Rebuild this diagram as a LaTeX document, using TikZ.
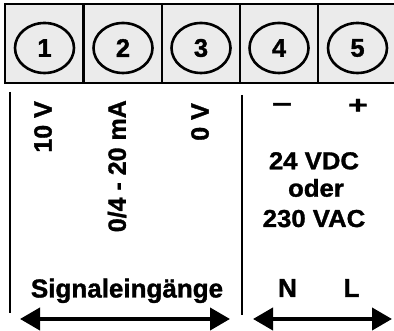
\documentclass[tikz,border=0pt]{standalone}
\usepackage{fontspec}
\usepackage{graphicx}
\setmainfont{Liberation Sans}
\newfontfamily\lblfont[FakeStretch=1.05,FakeBold=1.3]{Liberation Sans Bold}
\newfontfamily\rotfont[FakeBold=1.3]{Liberation Sans Bold}
\usetikzlibrary{arrows.meta,shapes.geometric}
\begin{document}
\begin{tikzpicture}[x=1pt,y=1pt,
  frame/.style={draw=black,line width=2.8pt,fill=black!8},
  term/.style={draw=black,line width=2.6pt,ellipse,inner sep=0pt,minimum width=59pt,minimum height=50pt,
    font=\rotfont\fontsize{25.5}{28}\selectfont},
  lbl/.style={font=\lblfont\fontsize{24.5}{28}\selectfont,inner sep=0pt},
  blbl/.style={font=\rotfont\fontsize{26}{28}\selectfont,inner sep=0pt,anchor=base},
  rlbl/.style={font=\rotfont\fontsize{25}{28}\selectfont,inner sep=0pt,rotate=90,anchor=east},
  sep/.style={line width=2.8pt},
  dbl/.style={line width=4pt,{Triangle[length=20pt,width=22pt]}-{Triangle[length=20pt,width=22pt]}}
]
\useasboundingbox (0,0) rectangle (394,331);
% terminal strip
\draw[frame] (5,327) rectangle (400,248);
\foreach \x in {83.5,162,240,318}{\draw[sep] (\x,327) -- (\x,248);}
\node[term] (t1) at (44.5,283) {1};
\node[term] (t2) at (123,283) {2};
\node[term] (t3) at (201,283) {3};
\node[term] (t4) at (279,283) {4};
\node[term] (t5) at (357.5,283) {5};
% separators
\coordinate (s1a) at (10,239);
\coordinate (s1b) at (10,18);
\coordinate (s2a) at (242,236);
\coordinate (s2b) at (242,16);
\draw[sep] (s1a) -- (s1b);
\draw[sep] (s2a) -- (s2b);
% labels
\node[rlbl] (l1) at (43,230) {10 V};
\node[rlbl] (l2) at (117,231) {0/4 - 20 mA};
\node[rlbl] (l3) at (200,228) {0 V};
\node[lbl,anchor=base] (minus) at (282,220.1) {\scalebox{1.35}[1]{–}};
\node[lbl,anchor=base] (plus) at (358,217.7) {\scalebox{1.3}[1]{+}};
\node[lbl,anchor=base] (v1) at (314,161.7) {24 VDC};
\node[lbl,anchor=base] (v2) at (316,134.3) {oder};
\node[lbl,anchor=base] (v3) at (314,104) {230 VAC};
\node[blbl] (sig) at (127,33.5) {Signaleingänge};
\node[blbl] (N) at (287.5,34) {N};
\node[blbl] (L) at (351.5,34) {L};
% arrows
\coordinate (a1) at (20,12);
\coordinate (a2) at (230,12);
\coordinate (b1) at (253,12);
\coordinate (b2) at (392,12);
\draw[dbl] (a1) -- (a2);
\draw[dbl] (b1) -- (b2);
\end{tikzpicture}
\end{document}
